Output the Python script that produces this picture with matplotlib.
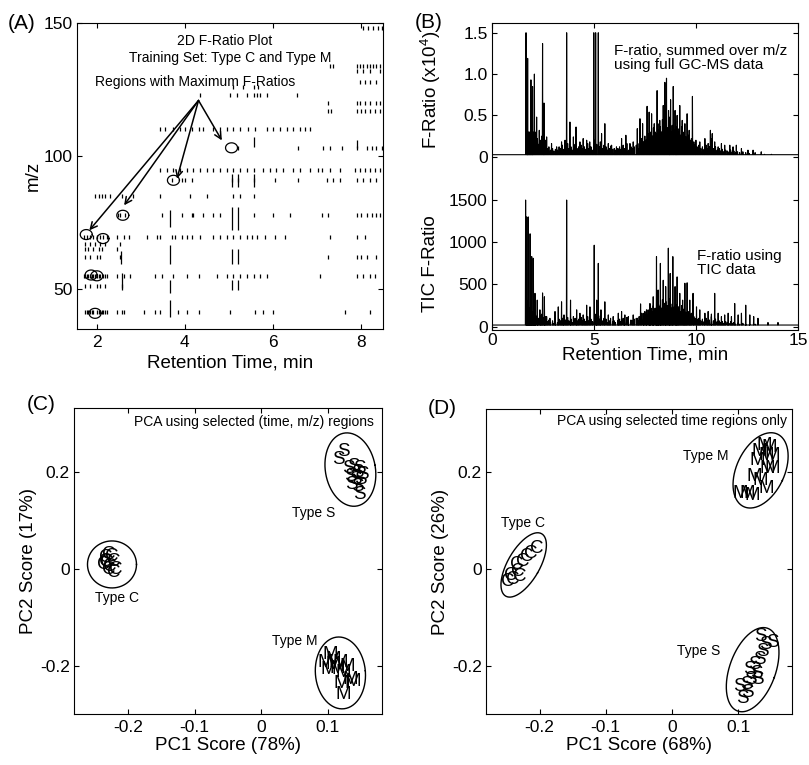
import numpy as np
import matplotlib.pyplot as plt

plt.rcParams['font.family'] = ['Liberation Sans', 'DejaVu Sans']
plt.rcParams['mathtext.fontset'] = 'custom'
plt.rcParams['mathtext.rm'] = 'Liberation Sans'
plt.rcParams['axes.unicode_minus'] = False

# ---- (A) 2D F-ratio spots: one row per m/z, retention times in min
spot_mz = [41.5, 55, 51, 62, 65, 67, 69.5, 78, 85, 91, 94.6, 103, 110, 117, 120, 123, 126, 128, 132, 134, 148]
spot_t = [
    [1.74, 1.78, 1.81, 1.85, 1.88, 1.92, 2.0, 2.04, 2.08, 2.11, 2.15, 2.19, 2.23, 2.45, 2.57, 2.61, 3.08, 3.32, 3.44, 3.85, 4.04, 4.31, 5.03, 5.59, 5.78, 6.01, 7.64, 8.20],
    [1.70, 1.74, 1.78, 1.81, 1.85, 1.88, 1.92, 1.96, 2.0, 2.04, 2.08, 2.15, 2.19, 2.23, 2.45, 2.61, 2.76, 3.32, 3.47, 3.74, 4.04, 4.31, 4.72, 4.95, 5.10, 5.25, 5.40, 5.56, 5.71, 5.86, 7.07, 7.90, 8.05, 8.20, 8.32],
    [1.74, 1.85, 2.0, 2.08, 2.19, 2.57],
    [1.74, 1.85, 2.0, 2.08, 2.53, 7.26, 7.90, 8.01, 8.13, 8.35],
    [1.74, 1.81, 1.92, 2.04, 2.11, 2.45],
    [1.74, 1.85, 1.96, 2.08, 2.19, 2.53],
    [1.70, 1.78, 1.85, 1.92, 2.0, 2.08, 2.15, 2.23, 2.45, 2.61, 2.72, 3.13, 3.36, 3.44, 3.70, 3.78, 3.93, 4.04, 4.16, 4.34, 4.65, 4.80, 4.95, 5.10, 5.25, 5.40, 5.52, 5.63, 5.82, 6.05, 6.27, 7.30, 7.90, 8.09],
    [2.49, 2.53, 2.64, 3.47, 3.93, 4.16, 4.19, 4.42, 4.65, 4.80, 5.56, 6.01, 6.39, 7.11, 7.26, 7.90, 8.01, 8.13, 8.24, 8.35, 8.43],
    [1.96, 2.04, 2.11, 2.19, 2.30, 2.57, 2.83, 3.44, 4.12, 4.50, 5.10, 5.25, 5.56],
    [3.70, 3.93, 4.00, 4.16, 5.06, 5.21, 5.56, 6.05, 6.58, 7.22, 7.37, 7.52, 7.90, 8.05, 8.20, 8.35],
    [3.44, 3.59, 3.74, 3.89, 4.04, 4.19, 4.34, 4.50, 4.65, 4.80, 4.95, 5.10, 5.25, 5.40, 5.56, 5.78, 5.93, 6.08, 6.24, 6.46, 6.61, 6.84, 7.03, 7.11, 7.30, 7.52, 7.86, 7.98, 8.09, 8.20, 8.32, 8.43],
    [5.21, 6.58, 7.14, 7.30, 7.56, 7.90, 8.13, 8.24, 8.35, 8.47],
    [3.44, 3.55, 3.74, 3.89, 4.00, 4.16, 4.31, 4.42, 4.65, 4.80, 4.95, 5.10, 5.25, 5.44, 5.59, 5.86, 6.01, 6.16, 6.31, 6.46, 6.61, 6.73, 6.84],
    [7.26, 7.33, 7.90, 8.01, 8.09, 8.20, 8.32, 8.43],
    [7.26, 7.90, 7.98, 8.09, 8.20, 8.35, 8.43],
    [4.34, 5.03, 5.18, 5.40, 5.56, 5.63, 5.71, 5.86, 6.54],
    [5.10, 5.33, 5.56, 5.67],
    [7.98, 8.09, 8.20, 8.35],
    [7.90, 8.05, 8.20, 8.43],
    [7.30, 7.37, 7.90, 7.98, 8.05, 8.13, 8.20, 8.28, 8.35, 8.43],
    [8.05, 8.16, 8.28, 8.39, 8.47],
]
streak_t = [3.66, 3.66, 3.66, 3.66, 5.06, 5.06, 5.06, 5.06, 5.21, 5.21, 5.21, 5.21, 5.56, 5.56, 2.57, 2.55, 7.90]
streak_lo = [39.6, 48.4, 59.6, 73.4, 59.6, 49.6, 72.1, 88.4, 59.6, 49.6, 72.1, 88.4, 103.4, 88.4, 49.6, 59.5, 103]
streak_hi = [45.9, 53.4, 66.5, 79.6, 65.2, 53.4, 80.9, 93.4, 65.2, 53.4, 80.9, 93.4, 107.0, 93.4, 55.9, 64.5, 106]
circ_t = [5.06, 3.74, 2.59, 1.76, 2.14, 1.87, 2.00, 1.96]
circ_mz = [103.1, 90.9, 77.75, 70.5, 69.0, 55.3, 55.0, 40.9]
arrow_from = (4.31, 120.9)
arrow_t = [4.84, 3.82, 2.62, 1.83]
arrow_mz = [105.9, 91.5, 81.5, 72.1]

# ---- (B) F-ratio chromatograms: main peaks and smaller background peaks
top_t = [1.68, 1.76, 1.92, 2.00, 2.09, 2.20, 2.33, 2.49, 2.56, 2.69, 2.93, 3.18, 3.42, 3.59, 3.67,
         3.83, 4.00, 4.13, 4.32, 4.48, 4.65, 4.80, 5.00, 5.09, 5.22, 5.38, 5.54, 5.71, 5.87, 6.11,
         6.36, 6.57, 6.77, 6.93, 7.13, 7.26, 7.39, 7.61, 7.71, 7.83, 7.96, 8.10, 8.23, 8.40, 8.48,
         8.56, 8.66, 8.76, 8.89, 8.98, 9.08, 9.21, 9.33, 9.46, 9.57, 9.67, 9.83, 10.00, 10.19, 10.44,
         10.60, 10.71, 10.80, 10.92, 11.09, 11.25, 11.41, 11.66, 11.82, 11.98, 12.23, 12.55, 12.80, 13.20]
top_h = [1.50, 1.19, 0.93, 0.85, 1.00, 0.48, 0.32, 1.37, 0.65, 0.24, 0.16, 0.12, 0.18, 0.20, 1.50,
         0.42, 0.24, 0.36, 0.18, 0.22, 0.20, 0.18, 1.50, 1.50, 1.50, 0.28, 0.40, 0.16, 0.14, 0.12,
         0.22, 0.26, 0.16, 0.18, 0.34, 0.46, 0.40, 0.61, 0.54, 0.52, 0.40, 0.80, 0.44, 0.62, 0.90,
         0.95, 0.56, 0.69, 0.85, 0.56, 0.50, 0.62, 0.44, 0.40, 0.52, 0.32, 0.73, 0.20, 0.18, 0.22,
         0.16, 0.32, 0.28, 0.18, 0.12, 0.16, 0.14, 0.14, 0.12, 0.14, 0.10, 0.08, 0.08, 0.06]
tic_t = [1.66, 1.71, 1.79, 1.88, 1.96, 2.04, 2.12, 2.23, 2.36, 2.49, 2.58, 2.69, 2.85, 3.10, 3.26,
         3.42, 3.54, 3.67, 3.86, 4.00, 4.16, 4.32, 4.48, 4.65, 4.81, 5.02, 5.14, 5.22, 5.35, 5.54,
         5.71, 5.95, 6.20, 6.36, 6.52, 6.69, 6.93, 7.13, 7.29, 7.42, 7.58, 7.75, 7.91, 8.07, 8.15,
         8.26, 8.40, 8.52, 8.65, 8.74, 8.87, 8.98, 9.08, 9.21, 9.35, 9.46, 9.57, 9.70, 9.86, 10.03,
         10.19, 10.44, 10.60, 10.76, 10.92, 11.09, 11.25, 11.41, 11.58, 11.74, 11.90, 12.07, 12.23, 12.44, 12.64,
         12.83, 13.04, 13.53, 14.02]
tic_h = [1500, 1300, 1300, 1100, 830, 810, 395, 315, 200, 400, 355, 120, 100, 180, 235,
         295, 140, 1500, 315, 120, 200, 160, 140, 255, 235, 965, 315, 750, 200, 295,
         140, 120, 160, 180, 140, 120, 140, 100, 270, 160, 200, 275, 355, 830, 435,
         750, 550, 475, 930, 630, 830, 475, 590, 395, 315, 515, 520, 315, 395, 235,
         200, 160, 180, 120, 395, 160, 120, 140, 160, 120, 275, 140, 160, 255, 140,
         120, 100, 50, 50]
grass_t = [1.72, 1.74, 1.78, 1.80, 1.84, 1.86, 1.90, 1.94, 1.98, 2.02,
           2.06, 2.12, 2.16, 2.24, 2.28, 2.38, 2.42, 2.46, 2.54, 2.60,
           2.64, 2.74, 2.80, 2.88, 2.98, 3.04, 3.12, 3.22, 3.30, 3.38,
           3.46, 3.52, 3.62, 3.72, 3.78, 3.88, 3.94, 4.08, 4.18, 4.26,
           4.38, 4.44, 4.54, 4.60, 4.70, 4.76, 4.86, 4.94, 5.06, 5.14,
           5.28, 5.32, 5.44, 5.50, 5.60, 5.66, 5.76, 5.82, 5.92, 6.00,
           6.06, 6.18, 6.26, 6.30, 6.44, 6.50, 6.62, 6.70, 6.82, 6.88,
           6.98, 7.08, 7.18, 7.22, 7.34, 7.44, 7.50, 7.56, 7.66, 7.74,
           7.80, 7.88, 7.92, 8.00, 8.06, 8.14, 8.18, 8.26, 8.32, 8.36,
           8.44, 8.52, 8.60, 8.70, 8.72, 8.80, 8.84, 8.92, 9.02, 9.04,
           9.12, 9.16, 9.24, 9.30, 9.38, 9.42, 9.50, 9.54, 9.62, 9.72,
           9.78, 9.90, 9.96, 10.06, 10.14, 10.24, 10.32, 10.40, 10.50, 10.56,
           10.66, 10.76, 10.86, 10.96, 11.04, 11.14, 11.20, 11.30, 11.36, 11.46,
           11.54, 11.62, 11.70, 11.78, 11.86, 11.94, 12.04, 12.14, 12.30, 12.44,
           12.62, 12.90, 13.36, 13.70]
grass_top_h = [0.40, 0.35, 0.30, 0.25, 0.30, 0.20, 0.28, 0.32, 0.22, 0.30,
               0.25, 0.30, 0.18, 0.22, 0.15, 0.20, 0.12, 0.25, 0.18, 0.14,
               0.20, 0.10, 0.12, 0.08, 0.10, 0.07, 0.09, 0.08, 0.12, 0.10,
               0.14, 0.09, 0.12, 0.16, 0.10, 0.12, 0.08, 0.15, 0.10, 0.12,
               0.14, 0.10, 0.12, 0.09, 0.16, 0.10, 0.12, 0.08, 0.20, 0.15,
               0.12, 0.18, 0.10, 0.14, 0.12, 0.08, 0.10, 0.13, 0.09, 0.10,
               0.08, 0.10, 0.12, 0.09, 0.14, 0.10, 0.16, 0.08, 0.12, 0.10,
               0.12, 0.14, 0.10, 0.16, 0.22, 0.18, 0.25, 0.20, 0.28, 0.22,
               0.30, 0.25, 0.35, 0.30, 0.28, 0.40, 0.32, 0.36, 0.30, 0.45,
               0.38, 0.42, 0.35, 0.40, 0.48, 0.30, 0.38, 0.32, 0.36, 0.28,
               0.34, 0.30, 0.26, 0.36, 0.28, 0.30, 0.24, 0.22, 0.26, 0.20,
               0.22, 0.18, 0.15, 0.12, 0.14, 0.10, 0.12, 0.09, 0.14, 0.10,
               0.12, 0.22, 0.10, 0.12, 0.08, 0.10, 0.07, 0.09, 0.06, 0.08,
               0.07, 0.06, 0.08, 0.06, 0.07, 0.05, 0.06, 0.05, 0.06, 0.05,
               0.04, 0.05, 0.03, 0.03]
grass_tic_h = [250, 300, 200, 180, 220, 150, 200, 260, 150, 180,
               160, 200, 120, 140, 100, 130, 90, 150, 110, 90,
               120, 60, 80, 50, 70, 40, 60, 50, 90, 70,
               100, 60, 80, 110, 70, 90, 50, 100, 70, 90,
               110, 70, 90, 60, 120, 70, 90, 60, 150, 110,
               90, 130, 70, 100, 90, 50, 70, 100, 60, 70,
               50, 70, 90, 60, 100, 70, 110, 50, 80, 70,
               90, 100, 70, 120, 160, 130, 180, 140, 200, 160,
               220, 180, 250, 220, 200, 300, 240, 260, 220, 320,
               280, 300, 250, 280, 330, 220, 270, 230, 260, 200,
               240, 210, 180, 250, 200, 210, 170, 160, 180, 140,
               160, 120, 100, 90, 100, 70, 90, 60, 100, 70,
               80, 150, 70, 90, 60, 70, 50, 60, 40, 60,
               50, 40, 60, 40, 50, 30, 40, 30, 40, 30,
               25, 30, 20, 20]
top_base = 0.025
tic_base = 20

# ---- (C) PCA scores, selected (time, m/z) regions
c_S_x = [0.124, 0.116, 0.131, 0.139, 0.147, 0.144, 0.134, 0.141, 0.149, 0.136, 0.144, 0.147, 0.152]
c_S_y = [0.241, 0.224, 0.207, 0.210, 0.207, 0.197, 0.190, 0.183, 0.183, 0.173, 0.170, 0.152, 0.193]
c_C_x = [-0.229, -0.234, -0.224, -0.232, -0.222, -0.237, -0.227, -0.219, -0.229, -0.222, -0.233]
c_C_y = [0.030, 0.023, 0.026, 0.012, 0.016, 0.009, 0.005, -0.001, -0.001, -0.008, 0.016]
c_M_x = [0.104, 0.096, 0.109, 0.119, 0.129, 0.101, 0.114, 0.124, 0.134, 0.139, 0.121, 0.124, 0.109]
c_M_y = [-0.176, -0.193, -0.197, -0.193, -0.200, -0.207, -0.204, -0.214, -0.228, -0.231, -0.235, -0.259, -0.187]

# ---- (D) PCA scores, selected time regions only
d_M_x = [0.139, 0.147, 0.132, 0.142, 0.152, 0.129, 0.144, 0.124, 0.142, 0.104, 0.114, 0.122, 0.134, 0.152]
d_M_y = [0.256, 0.252, 0.242, 0.235, 0.235, 0.225, 0.208, 0.191, 0.167, 0.156, 0.156, 0.153, 0.184, 0.208]
d_C_x = [-0.248, -0.240, -0.243, -0.233, -0.235, -0.225, -0.220, -0.213, -0.205, -0.230]
d_C_y = [-0.025, -0.022, -0.012, -0.005, 0.009, 0.016, 0.026, 0.033, 0.043, -0.015]
d_S_x = [0.107, 0.102, 0.112, 0.119, 0.127, 0.117, 0.124, 0.132, 0.137, 0.142, 0.134, 0.152, 0.129, 0.114]
d_S_y = [-0.266, -0.242, -0.238, -0.228, -0.214, -0.207, -0.197, -0.187, -0.169, -0.156, -0.139, -0.152, -0.228, -0.255]

NOTE_FS = 10
LABEL_FS = 13.5
TICK_FS = 12.5


def style(ax, pad_x=4, pad_y=3):
    ax.tick_params(direction='in', top=True, right=True, length=3.5, width=0.8, labelsize=TICK_FS)
    ax.tick_params(axis='x', pad=pad_x)
    ax.tick_params(axis='y', pad=pad_y)
    for s in ax.spines.values():
        s.set_linewidth(0.8)


def ellipse(ax, cx, cy, a, b, ang, lw=1.0):
    # a, b = semi axes in pixels, ang = tilt in screen degrees
    th = np.linspace(0, 2 * np.pi, 200)
    x0, y0 = ax.transData.transform((cx, cy))
    c, s = np.cos(np.radians(ang)), np.sin(np.radians(ang))
    px = x0 + a * np.cos(th) * c - b * np.sin(th) * s
    py = y0 + a * np.cos(th) * s + b * np.sin(th) * c
    pts = ax.transData.inverted().transform(np.column_stack([px, py]))
    ax.plot(pts[:, 0], pts[:, 1], color='k', lw=lw)


def spikes(t, h, base):
    order = np.argsort(t)
    xs, ys = [0], [base]
    for i in order:
        xs += [t[i] - 0.012, t[i], t[i] + 0.012]
        ys += [base, h[i], base]
    xs.append(15)
    ys.append(base)
    return xs, ys


fig = plt.figure(figsize=(8.09, 7.65), dpi=100, facecolor='white')

# ================= (A)
axA = fig.add_axes([0.0952, 0.5699, 0.3782, 0.4])
axA.set_xlim(1.55, 8.5)
axA.set_ylim(35, 150)
for mz, ts in zip(spot_mz, spot_t):
    axA.plot(ts, [mz] * len(ts), '|', color='k', ms=3, mew=0.9)
axA.vlines(streak_t, streak_lo, streak_hi, color='k', lw=0.9)
for tx, my in zip(circ_t, circ_mz):
    ellipse(axA, tx, my, 6, 5, 0, lw=0.9)
for tx, my in zip(arrow_t, arrow_mz):
    axA.annotate('', xy=(tx, my), xytext=arrow_from,
                 arrowprops=dict(arrowstyle='->', lw=1.1, color='k', shrinkA=0, shrinkB=0, mutation_scale=12))
axA.text(4.91, 143.4, '2D F-Ratio Plot', ha='center', va='center', fontsize=NOTE_FS)
axA.text(5.03, 137.0, 'Training Set: Type C and Type M', ha='center', va='center', fontsize=NOTE_FS)
axA.text(4.23, 127.8, 'Regions with Maximum F-Ratios', ha='center', va='center', fontsize=NOTE_FS)
axA.set_xticks([2, 4, 6, 8])
axA.set_yticks([50, 100, 150])
style(axA)
axA.set_xlabel('Retention Time, min', fontsize=LABEL_FS)
axA.set_ylabel('m/z', fontsize=LABEL_FS)
axA.xaxis.set_label_coords(0.5, -0.110)
axA.xaxis.label.set_va('center')
axA.yaxis.set_label_coords(-0.143, 0.5)
axA.yaxis.label.set_va('center')

# ================= (B)
posB = [0.6078, 0.5686, 0.3786, 0.4009]
axB = fig.add_axes(posB)
axT = fig.add_axes(posB)
axB.set_xlim(0, 15)
axB.set_ylim(-39, 3592)
axT.set_xlim(0, 15)
axT.set_ylim(-2.096, 1.614)
xs, ys = spikes(tic_t + grass_t, tic_h + grass_tic_h, tic_base)
axB.plot(xs, ys, color='k', lw=0.8)
xs, ys = spikes(top_t + grass_t, top_h + grass_top_h, top_base)
axT.plot(xs, ys, color='k', lw=0.8)
axB.set_xticks([0, 5, 10, 15])
axB.set_yticks([0, 500, 1000, 1500])
axT.set_xticks([])
axT.set_yticks([0, 0.5, 1.0, 1.5])
axT.set_yticklabels(['0', '0.5', '1.0', '1.5'])
style(axB, pad_x=2.5)
style(axT)
axT.tick_params(top=False, bottom=False)
axT.patch.set_visible(False)
for s in axT.spines.values():
    s.set_visible(False)
axT.text(0.40, 0.888, 'F-ratio, summed over m/z\nusing full GC-MS data', transform=axT.transAxes,
         ha='left', va='center', fontsize=11, linespacing=1.0)
axT.text(0.669, 0.218, 'F-ratio using\nTIC data', transform=axT.transAxes,
         ha='left', va='center', fontsize=11, linespacing=1.0)
axB.set_xlabel('Retention Time, min', fontsize=LABEL_FS)
axB.xaxis.set_label_coords(0.5, -0.0815)
axB.xaxis.label.set_va('center')
axT.set_ylabel('F-Ratio (x10$^4$)', fontsize=LABEL_FS)
axT.yaxis.set_label_coords(-0.201, 0.782)
axT.yaxis.label.set_va('center')
axB.set_ylabel('TIC F-Ratio', fontsize=LABEL_FS)
axB.yaxis.set_label_coords(-0.201, 0.218)
axB.yaxis.label.set_va('center')


# ================= (C) and (D)
def pca_panel(pos, groups, ells, labels, note, pc1, pc2):
    ax = fig.add_axes(pos)
    ax.set_xlim(-0.281, 0.181)
    ax.set_ylim(-0.299, 0.330)
    for letter, gx, gy in groups:
        for x, y in zip(gx, gy):
            ax.text(x, y, letter, ha='center', va='center', fontsize=13.5)
    for cx, cy, a, b, ang in ells:
        ellipse(ax, cx, cy, a, b, ang)
    for txt, x, y in labels:
        ax.text(x, y, txt, ha='center', va='center', fontsize=NOTE_FS)
    ax.text(note[1], note[2], note[0], transform=ax.transAxes, ha='right', va='center', fontsize=NOTE_FS)
    ax.set_xticks([-0.2, -0.1, 0, 0.1])
    ax.set_xticklabels(['-0.2', '-0.1', '0', '0.1'])
    ax.set_yticks([-0.2, 0, 0.2])
    ax.set_yticklabels(['-0.2', '0', '0.2'])
    style(ax)
    ax.set_xlabel(pc1, fontsize=LABEL_FS)
    ax.set_ylabel(pc2, fontsize=LABEL_FS)
    ax.xaxis.set_label_coords(0.5, -0.103)
    ax.xaxis.label.set_va('center')
    ax.yaxis.set_label_coords(-0.148, 0.5)
    ax.yaxis.label.set_va('center')
    return ax


pca_panel([0.0915, 0.0663, 0.3803, 0.4],
          [('S', c_S_x, c_S_y), ('C', c_C_x, c_C_y), ('M', c_M_x, c_M_y)],
          [(0.134, 0.204, 25, 37, 10), (-0.224, 0.009, 24.5, 23.5, 0), (0.119, -0.214, 25, 36, 5)],
          [('Type S', 0.079, 0.115), ('Type C', -0.2165, -0.061), ('Type M', 0.051, -0.149)],
          ('PCA using selected (time, m/z) regions', 0.973, 0.956),
          'PC1 Score (78%)', 'PC2 Score (17%)')

pca_panel([0.6007, 0.0663, 0.3779, 0.3987],
          [('M', d_M_x, d_M_y), ('C', d_C_x, d_C_y), ('S', d_S_x, d_S_y)],
          [(0.134, 0.204, 24, 40, -25), (-0.224, 0.009, 16, 36, -30), (0.122, -0.207, 23, 44, -20)],
          [('Type M', 0.051, 0.233), ('Type C', -0.225, 0.096), ('Type S', 0.041, -0.169)],
          ('PCA using selected time regions only', 0.984, 0.96),
          'PC1 Score (68%)', 'PC2 Score (26%)')

# panel letters
fig.text(8 / 809, 1 - 23.5 / 765, '(A)', fontsize=15, va='center')
fig.text(415 / 809, 1 - 22.5 / 765, '(B)', fontsize=15, va='center')
fig.text(27 / 809, 1 - 404 / 765, '(C)', fontsize=15, va='center')
fig.text(428 / 809, 1 - 408 / 765, '(D)', fontsize=15, va='center')

fig.savefig('out.png', dpi=100, facecolor='white')
